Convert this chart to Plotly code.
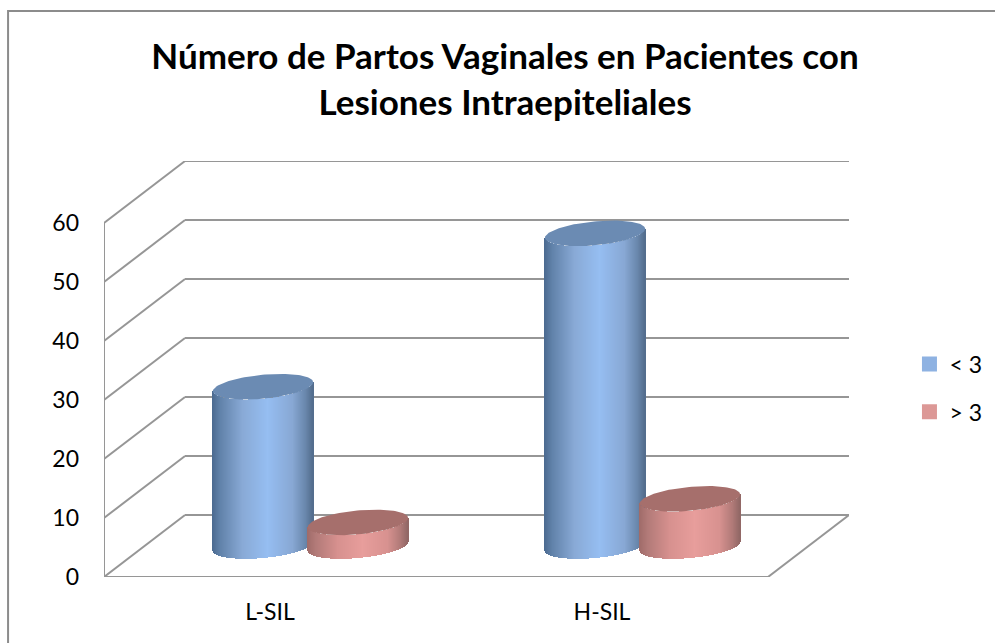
import numpy as np
import plotly.graph_objects as go

# valores
categorias = ["L-SIL", "H-SIL"]
menor_3 = [27, 53]
mayor_3 = [4, 8]
ticks_y = [0, 10, 20, 30, 40, 50, 60]

# geometria del "3D" (unidades de los ejes)
FONDO_X = 0.244
FONDO_Y = 10.5
RADIO_X = 0.151
RADIO_Y = 2.03
INCLINA = 0.76
DESPL = 0.143
GRIS = "#969696"
FUENTE = "Lato, Carlito, Calibri, sans-serif"

M_IZQ, M_DER, M_ARR, M_ABA = 104, 145.5, 161, 66
ANCHO_P = 995 - M_IZQ - M_DER
ALTO_P = 643 - M_ARR - M_ABA

# degradado horizontal de los cilindros
pos = [0, 0.08, 0.3, 0.55, 0.8, 0.93, 1]
azul = [(76, 107, 145), (98, 131, 171), (137, 170, 214), (150, 190, 242), (136, 168, 212), (105, 135, 172), (84, 110, 142)]
rojo = [(160, 108, 106), (178, 122, 120), (215, 145, 143), (232, 158, 156), (216, 146, 144), (176, 122, 120), (146, 104, 102)]


def color_en(stops, t):
    r = [np.interp(t, pos, [c[i] for c in stops]) for i in range(3)]
    return "rgb(%d,%d,%d)" % (r[0], r[1], r[2])


def cilindro(fig, centro, valor, stops, tapa):
    xs = np.linspace(-RADIO_X, RADIO_X, 101)
    curva = INCLINA * xs / RADIO_X - RADIO_Y * np.sqrt(np.clip(1 - (xs / RADIO_X) ** 2, 0, 1))
    base = FONDO_Y / 2 + curva
    colores = [color_en(stops, t) for t in (xs + RADIO_X) / (2 * RADIO_X)]
    fig.add_trace(
        go.Bar(
            x=centro + xs,
            y=[valor] * len(xs),
            base=base,
            width=1.6 / 332,
            marker=dict(color=colores, line=dict(width=0)),
            showlegend=False,
            hoverinfo="skip",
        )
    )
    t = np.linspace(0, 2 * np.pi, 120)
    fig.add_trace(
        go.Scatter(
            x=centro + RADIO_X * np.cos(t),
            y=FONDO_Y / 2 + valor + RADIO_Y * np.sin(t) + INCLINA * np.cos(t),
            mode="lines",
            fill="toself",
            fillcolor=tapa,
            line=dict(width=0, color=tapa),
            showlegend=False,
            hoverinfo="skip",
        )
    )


fig = go.Figure()

for i in range(len(categorias)):
    centro = i + FONDO_X / 2
    cilindro(fig, centro - DESPL, menor_3[i], azul, "#6b8bb3")
    cilindro(fig, centro + DESPL, mayor_3[i], rojo, "#a66f6c")

# solo para la leyenda
for nombre, col in [("< 3", "#8eb2e2"), ("> 3", "#dc9896")]:
    fig.add_trace(
        go.Scatter(
            x=[None],
            y=[None],
            mode="markers",
            name=nombre,
            legendgroup=nombre,
            marker=dict(symbol="square", size=15, color=col),
        )
    )

# paredes y suelo
lineas = []


def linea(x0, y0, x1, y1):
    lineas.append(
        dict(type="line", xref="x", yref="y", x0=x0, y0=y0, x1=x1, y1=y1,
             line=dict(color=GRIS, width=2), layer="below")
    )


x_min = -0.5
x_max = len(categorias) - 0.5
for v in ticks_y:
    linea(x_min, v, x_min + FONDO_X, v + FONDO_Y)
    linea(x_min + FONDO_X, v + FONDO_Y, x_max + FONDO_X, v + FONDO_Y)
linea(x_min, 0, x_min, ticks_y[-1])
linea(x_min, 0, x_max, 0)
linea(x_max, 0, x_max + FONDO_X, FONDO_Y)

# marco del grafico
lineas.append(
    dict(type="rect", xref="paper", yref="paper",
         x0=(8 - M_IZQ) / ANCHO_P, x1=(1010 - M_IZQ) / ANCHO_P,
         y0=(643 - M_ABA - 660) / ALTO_P, y1=(643 - M_ABA - 11) / ALTO_P,
         line=dict(color="#8c8c8c", width=2), layer="below")
)

fig.update_layout(
    width=995,
    height=643,
    margin=dict(l=M_IZQ, r=M_DER, t=M_ARR, b=M_ABA, autoexpand=False),
    paper_bgcolor="white",
    plot_bgcolor="rgba(0,0,0,0)",
    barmode="overlay",
    bargap=0,
    shapes=lineas,
    font=dict(family=FUENTE, size=23, color="#000000"),
    title=dict(
        text="<b>Número de Partos Vaginales en Pacientes con<br>Lesiones Intraepiteliales</b>",
        x=505 / 995,
        xanchor="center",
        xref="container",
        y=1 - 69 / 643,
        yref="container",
        yanchor="middle",
        font=dict(family=FUENTE, size=35, color="#000000"),
    ),
    xaxis=dict(
        range=[x_min, x_max + FONDO_X],
        tickvals=list(range(len(categorias))),
        ticktext=categorias,
        showgrid=False,
        zeroline=False,
        showline=False,
        ticks="",
        ticklabelstandoff=19,
    ),
    yaxis=dict(
        range=[0, ALTO_P / 5.9],
        tickvals=ticks_y,
        showgrid=False,
        zeroline=False,
        showline=False,
        ticks="",
        ticklabelstandoff=24,
    ),
    legend=dict(
        x=(910 - M_IZQ) / ANCHO_P,
        xanchor="left",
        y=(643 - M_ABA - 388) / ALTO_P,
        yanchor="middle",
        tracegroupgap=15,
        bgcolor="rgba(0,0,0,0)",
        font=dict(size=23),
    ),
)

fig.write_html("out.html", config=dict(displayModeBar=False), post_script="document.body.style.margin='0';")
